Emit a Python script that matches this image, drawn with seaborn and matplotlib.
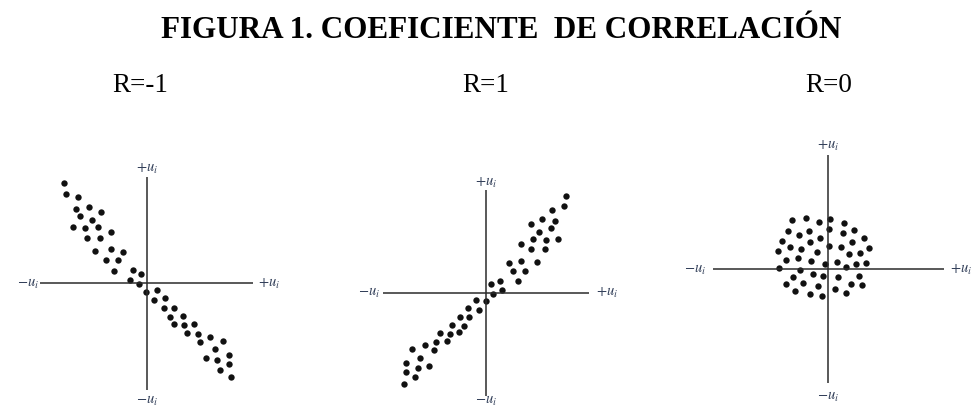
import matplotlib
matplotlib.use("Agg")
import matplotlib.pyplot as plt
import seaborn as sns
import pandas as pd

# Scatter clouds (units: horizontal / vertical offset from the origin)
neg_x = [-82.3, -80.7, -68.3, -71.0, -57.3, -46.0, -66.7, -54.7, -74.0, -61.7,
         -48.3, -35.7, -60.0, -46.3, -52.0, -36.0, -24.0, -40.7, -28.3, -32.3,
         -14.0, -5.7, -16.3, -7.7, -0.3, 10.0, 7.3, 18.3, 17.7, 27.3,
         23.0, 36.0, 27.3, 37.3, 47.7, 40.3, 51.7, 53.7, 63.3, 76.7,
         68.7, 82.7, 59.0, 70.3, 82.7, 73.3, 84.3]
neg_y = [100.7, 89.3, 86.0, 74.7, 76.3, 71.3, 67.0, 63.3, 56.7, 55.3,
         56.0, 51.0, 45.7, 45.7, 32.7, 34.0, 31.3, 23.0, 23.0, 12.3,
         13.3, 9.0, 3.7, -0.7, -8.3, -6.3, -17.0, -15.0, -24.3, -24.3,
         -33.3, -32.7, -40.7, -41.3, -41.0, -49.3, -50.3, -58.7, -53.3, -57.7,
         -66.0, -72.0, -75.0, -77.0, -81.0, -87.0, -94.0]

pos_x = [80.0, 78.7, 66.7, 56.0, 69.7, 45.3, 53.0, 65.0, 47.3, 60.3,
         72.0, 35.0, 45.7, 59.0, 23.7, 35.0, 51.0, 27.7, 39.7, 32.0,
         5.7, 14.0, 16.0, 7.7, -9.3, 0.7, -17.7, -6.7, -26.0, -16.3,
         -34.0, -21.7, -46.0, -36.0, -26.3, -49.7, -38.7, -74.0, -61.0, -51.7,
         -66.0, -79.3, -67.3, -56.7, -79.3, -70.7, -81.7]
pos_y = [97.3, 86.7, 83.0, 73.7, 72.3, 68.7, 61.3, 65.0, 54.3, 53.3,
         54.3, 49.0, 44.0, 44.3, 29.7, 32.3, 31.0, 22.0, 22.0, 11.7,
         8.7, 12.3, 2.7, -0.7, -6.7, -8.3, -15.0, -17.0, -24.0, -24.3,
         -32.3, -32.7, -40.0, -40.7, -39.3, -48.7, -48.0, -56.0, -52.3, -57.0,
         -64.7, -70.0, -74.7, -73.0, -79.3, -84.3, -91.3]

zero_x = [-36.0, -22.3, -9.3, 2.0, 15.7, -40.3, -29.0, -19.0, 0.7, 14.7,
          26.3, -46.3, -18.3, -7.7, 24.0, 35.7, -50.3, -38.0, -27.3, -10.7,
          0.7, 13.3, 21.3, 32.0, 41.3, -42.0, -30.3, -17.0, -3.3, 8.7,
          18.0, 27.7, 38.3, -48.7, -28.0, -15.3, -5.0, 9.7, 30.7, -35.0,
          -42.3, -24.7, -9.7, 22.7, 34.0, -32.7, -18.0, -6.0, 6.7, 18.0]
zero_y = [49.3, 51.0, 47.7, 50.7, 46.0, 38.7, 34.3, 38.3, 40.7, 36.0,
          39.0, 28.7, 27.7, 31.0, 27.7, 31.0, 18.3, 22.7, 20.7, 17.3,
          23.0, 22.3, 15.7, 16.0, 21.0, 9.3, 11.0, 8.0, 5.7, 7.7,
          2.7, 5.7, 6.0, 1.3, -0.3, -4.7, -7.0, -7.7, -6.3, -7.3,
          -14.7, -13.7, -16.7, -14.3, -15.3, -22.0, -24.3, -26.7, -19.7, -23.3]

titles = ["R=-1", "R=1", "R=0"]
main_title = "FIGURA 1. COEFICIENTE  DE CORRELACIÓN"

sns.set_theme(style="white")
plt.rcParams["mathtext.fontset"] = "stix"

W, H = 975, 412
fig = plt.figure(figsize=(W / 100, H / 100), dpi=100)
fig.patch.set_facecolor("white")

HALF_W, HALF_H = 140, 130
panels = [
    # origin (px), axis extents (left, right, bottom, top), label offsets
    dict(o=(146.7, 283.3), ext=(-106.7, 106.0, -106.7, 106.7),
         lab=dict(top=(0, 115), bottom=(0, -117), left=(-119, 0), right=(122, 0)),
         x=neg_x, y=neg_y),
    dict(o=(485.7, 293.0), ext=(-102.3, 103.7, -103.0, 103.0),
         lab=dict(top=(0, 111), bottom=(0, -108), left=(-117, 0), right=(121, 0)),
         x=pos_x, y=pos_y),
    dict(o=(828.0, 269.3), ext=(-115.3, 116.0, -114.0, 114.0),
         lab=dict(top=(0, 124), bottom=(0, -127), left=(-133, 0), right=(133, 0)),
         x=zero_x, y=zero_y),
]

ink = "#2b2b2b"
lab_col = "#33405a"

for p in panels:
    ox, oy = p["o"]
    ax = fig.add_axes([(ox - HALF_W) / W, (H - oy - HALF_H) / H,
                       2 * HALF_W / W, 2 * HALF_H / H])
    l, r, b, t = p["ext"]
    ax.plot([l, r], [0, 0], color=ink, lw=1.1, solid_capstyle="butt")
    ax.plot([0, 0], [b, t], color=ink, lw=1.1, solid_capstyle="butt")
    df = pd.DataFrame({"x": p["x"], "y": p["y"]})
    sns.scatterplot(data=df, x="x", y="y", ax=ax, color="#111111", s=21,
                    linewidth=0, legend=False)
    ax.set_xlim(-HALF_W, HALF_W)
    ax.set_ylim(-HALF_H, HALF_H)
    ax.axis("off")
    labs = p["lab"]
    kw = dict(fontsize=10.5, color=lab_col, ha="center", va="center", clip_on=False)
    ax.text(*labs["top"], r"$+u_i$", **kw)
    ax.text(*labs["bottom"], r"$-u_i$", **kw)
    ax.text(*labs["left"], r"$-u_i$", **kw)
    ax.text(*labs["right"], r"$+u_i$", **kw)

fig.text(501 / W, 1 - 38.3 / H, main_title, ha="center", va="baseline",
         fontsize=22.4, fontweight="bold", family="Liberation Serif", color="black")

r_pos = [112, 462, 805]
for xp, txt in zip(r_pos, titles):
    fig.text(xp / W, 1 - 92 / H, txt, ha="left", va="baseline",
             fontsize=19.5, family="Liberation Serif", color="black")

fig.savefig("out.png", dpi=100, facecolor="white")
